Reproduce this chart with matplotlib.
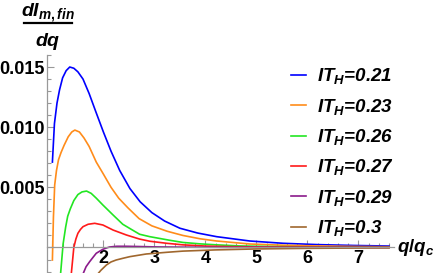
import matplotlib
matplotlib.use("Agg")
import matplotlib.pyplot as plt
from matplotlib.lines import Line2D
from matplotlib.ticker import FixedLocator, MultipleLocator, FuncFormatter

plt.rcParams['font.family'] = 'Liberation Sans'
plt.rcParams['font.weight'] = 'bold'
plt.rcParams['mathtext.fontset'] = 'custom'
plt.rcParams['mathtext.it'] = 'Liberation Sans:italic:bold'
plt.rcParams['mathtext.rm'] = 'Liberation Sans:bold'
plt.rcParams['mathtext.bf'] = 'Liberation Sans:bold'

# values (q/q_c, dI/dq)
q_021 = [1.00, 1.04, 1.09, 1.14, 1.20, 1.27, 1.34, 1.42, 1.50, 1.60, 1.72, 1.85, 2.00,
         2.15, 2.32, 2.52, 2.72, 2.95, 3.20, 3.50, 3.85, 4.22, 4.87, 5.52, 6.2, 6.9, 7.6]
y_021 = [0.0071, 0.0103, 0.0120, 0.0131, 0.0141, 0.0147, 0.0150, 0.0149, 0.0146, 0.0140,
         0.0128, 0.0113, 0.0096, 0.0080, 0.0064, 0.0049, 0.0038, 0.0029, 0.0022, 0.0016,
         0.0012, 0.0009, 0.00054, 0.00035, 0.00024, 0.00017, 0.00012]

q_023 = [1.00, 1.02, 1.045, 1.08, 1.12, 1.17, 1.23, 1.31, 1.38, 1.44, 1.53, 1.62, 1.72,
         1.86, 2.00, 2.15, 2.30, 2.48, 2.70, 2.95, 3.25, 3.56, 3.90, 4.22, 4.87, 5.52,
         6.2, 6.9, 7.6]
y_023 = [-0.00104, 0.0025, 0.0052, 0.0064, 0.0073, 0.0079, 0.0085, 0.0092, 0.0096,
         0.00976, 0.0096, 0.0091, 0.0084, 0.0071, 0.0061, 0.0050, 0.0041, 0.0033, 0.0024,
         0.0018, 0.00135, 0.0010, 0.00072, 0.00054, 0.00029, 0.00019, 0.00013, 0.00009,
         0.00006]

q_026 = [1.16, 1.21, 1.26, 1.30, 1.35, 1.42, 1.50, 1.58, 1.67, 1.76, 1.86, 1.99, 2.19,
         2.38, 2.55, 2.71, 2.91, 3.30, 3.56, 3.90, 4.22, 4.67, 5.3, 6.2, 7.6]
y_026 = [-0.0022, 0.0003, 0.0017, 0.0026, 0.0032, 0.0039, 0.0044, 0.00462, 0.00469,
         0.0045, 0.0041, 0.00353, 0.0027, 0.00193, 0.0015, 0.0011, 0.0009, 0.0006, 0.00042,
         0.0003, 0.00022, 0.00013, 0.00008, 0.00004, 0.00002]

q_027 = [1.37, 1.42, 1.46, 1.50, 1.55, 1.60, 1.70, 1.83, 1.99, 2.19, 2.45, 2.71, 2.91,
         3.24, 3.56, 4.0, 4.5, 5.5, 7.6]
y_027 = [-0.0022, 0.0, 0.0007, 0.00118, 0.0015, 0.00173, 0.00193, 0.00201, 0.00187,
         0.00145, 0.00104, 0.0007, 0.00052, 0.00035, 0.00022, 0.00012, 0.00007, 0.00003,
         0.00001]

q_029 = [1.60, 1.66, 1.73, 1.80, 1.86, 1.93, 1.99, 2.06, 2.12, 2.26, 2.45, 2.7, 3.0, 3.5,
         4.5, 7.6]
y_029 = [-0.0022, -0.0016, -0.00118, -0.0008, -0.00048, -0.0003, -0.00015, -0.00004,
         0.00004, 0.0001, 0.0001, 0.00008, 0.00005, 0.00003, 0.00001, 0.0]

q_030 = [1.89, 1.95, 2.06, 2.15, 2.25, 2.38, 2.52, 2.84, 3.24, 3.56, 4.2, 5.0, 6.0, 7.6]
y_030 = [-0.0022, -0.0019, -0.00145, -0.0012, -0.00104, -0.0009, -0.00076, -0.00054,
         -0.0004, -0.0003, -0.0002, -0.00012, -0.00007, -0.00003]

labels = ["0.21", "0.23", "0.26", "0.27", "0.29", "0.3"]
colors = ["#0000ff", "#ff8c1a", "#22e622", "#ff1a1a", "#8b1a8b", "#a0672e"]
series = [(q_021, y_021), (q_023, y_023), (q_026, y_026),
          (q_027, y_027), (q_029, y_029), (q_030, y_030)]

fig = plt.figure(figsize=(4.37, 2.73), dpi=100)
ax = fig.add_axes([47.3 / 437, 0, 346.8 / 437, 218 / 273])

for (q, y), lab, c in zip(series, labels, colors):
    ax.plot(q, y, color=c, lw=1.2, label=r"$IT_H$=" + lab, solid_joinstyle='round')

ax.set_xlim(0.9, 7.7)
ax.set_ylim(-0.00212, 0.016)

ax.spines['top'].set_visible(False)
ax.spines['right'].set_visible(False)
ax.spines['bottom'].set_position(('data', 0))
for s in ('left', 'bottom'):
    ax.spines[s].set_color('#999999')
    ax.spines[s].set_linewidth(0.9)

ax.xaxis.set_major_locator(FixedLocator([1, 2, 3, 4, 5, 6, 7]))
ax.xaxis.set_major_formatter(FuncFormatter(lambda v, p: "" if v < 1.5 else f"{v:.0f}"))
ax.xaxis.set_minor_locator(MultipleLocator(0.2))
ax.yaxis.set_major_locator(FixedLocator([0, 0.005, 0.010, 0.015]))
ax.yaxis.set_major_formatter(FuncFormatter(lambda v, p: "" if abs(v) < 1e-9 else f"{v:.3f}"))
ax.yaxis.set_minor_locator(MultipleLocator(0.001))

ax.tick_params(which='both', direction='in', color='#999999', width=0.8,
               labelsize=13)
ax.tick_params(which='major', length=5)
ax.tick_params(which='minor', length=2.8)
ax.tick_params(axis='x', pad=2)
ax.tick_params(axis='y', pad=2)

leg = ax.legend(loc='upper left', bbox_to_anchor=(283 / 437, 1 - 59 / 273),
                bbox_transform=fig.transFigure, frameon=False, handlelength=0.85,
                handletextpad=0.55, labelspacing=0.55, borderaxespad=0,
                prop={'family': 'Liberation Sans', 'weight': 'bold',
                      'style': 'italic', 'size': 13.5})

fig.text(397 / 437, 1 - 247 / 273, r"$q/q_c$", fontsize=13.5, ha='left', va='center')

# y label as a stacked fraction
fig.text(48 / 437, 1 - 13 / 273, r"$dI_{m,fin}$", fontsize=14, ha='center', va='center')
fig.add_artist(Line2D([24 / 437, 72 / 437], [1 - 22.5 / 273, 1 - 22.5 / 273],
                      transform=fig.transFigure, color='black', lw=1.6))
fig.text(48 / 437, 1 - 41 / 273, r"$dq$", fontsize=14, ha='center', va='center')

fig.savefig("out.png", dpi=100)
